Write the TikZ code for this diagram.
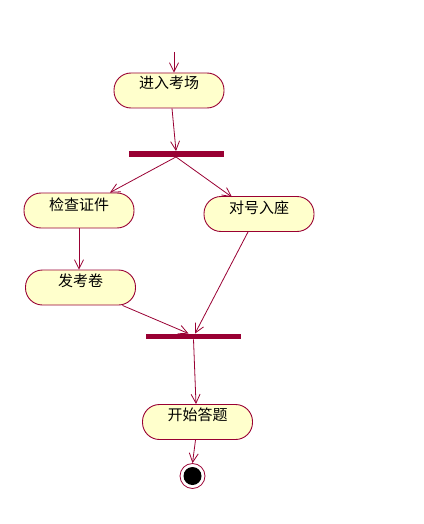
\documentclass[tikz,border=0pt]{standalone}
\usepackage{fontspec}
\newfontfamily\cjk{Noto Sans CJK SC}
\usetikzlibrary{arrows.meta}
\definecolor{umlline}{HTML}{990033}
\definecolor{umlfill}{HTML}{FFFFCC}
\tikzset{
  act/.style={draw=umlline, fill=umlfill, line width=0.9pt, rounded corners=17pt,
    minimum width=110pt, minimum height=35pt, inner sep=0pt},
  acttext/.style={font=\cjk\fontsize{15}{15}\selectfont, anchor=center, inner sep=0pt},
  bar/.style={fill=umlline, draw=none, minimum width=95pt, minimum height=5.5pt, inner sep=0pt},
  flow/.style={draw=umlline, line width=0.8pt, -{Straight Barb[length=9pt,width=9pt,line width=0.8pt]}},
}
\begin{document}
\begin{tikzpicture}[x=1pt,y=-1pt]
\useasboundingbox (0,0) rectangle (423,524);
\coordinate (start) at (174,52);
\node[act] (enter) at (169,90.5) {};
\node[acttext] (entert) at (169,82.5) {进入考场};
\node[bar] (fork) at (176,154) {};
\node[act] (check) at (79,210.5) {};
\node[acttext] (checkt) at (79,204.5) {检查证件};
\node[act] (seat) at (259,214) {};
\node[acttext] (seatt) at (259,208) {对号入座};
\node[act] (paper) at (80.5,287.5) {};
\node[acttext] (papert) at (80.5,281) {发考卷};
\node[bar] (join) at (193.5,336.5) {};
\node[act] (answer) at (197.5,422) {};
\node[acttext] (answert) at (197.5,415) {开始答题};
\node[circle, draw=umlline, fill=white, line width=0.8pt, minimum size=25pt, inner sep=0pt] (final) at (192.5,476) {};
\node[circle, fill=black, minimum size=18pt, inner sep=0pt] (finalin) at (final) {};

\draw[flow] (start) -- (enter.north -| start);
\draw[flow] ([xshift=3pt]enter.south) -- (fork.north);
\draw[flow] (fork.south) -- ([xshift=31pt]check.north);
\draw[flow] (fork.south) -- ([xshift=-27pt,yshift=-1pt]seat.north);
\draw[flow] (check.south) -- (paper.north -| check.south);
\draw[flow] ([xshift=42pt]paper.south) -- ([xshift=-5pt]join.north);
\draw[flow] ([xshift=-11pt]seat.south) -- ([xshift=1.5pt]join.north);
\draw[flow] (join.south) -- ([xshift=-1.5pt]answer.north);
\draw[flow] ([xshift=-2pt]answer.south) -- (final.north);
\end{tikzpicture}
\end{document}
